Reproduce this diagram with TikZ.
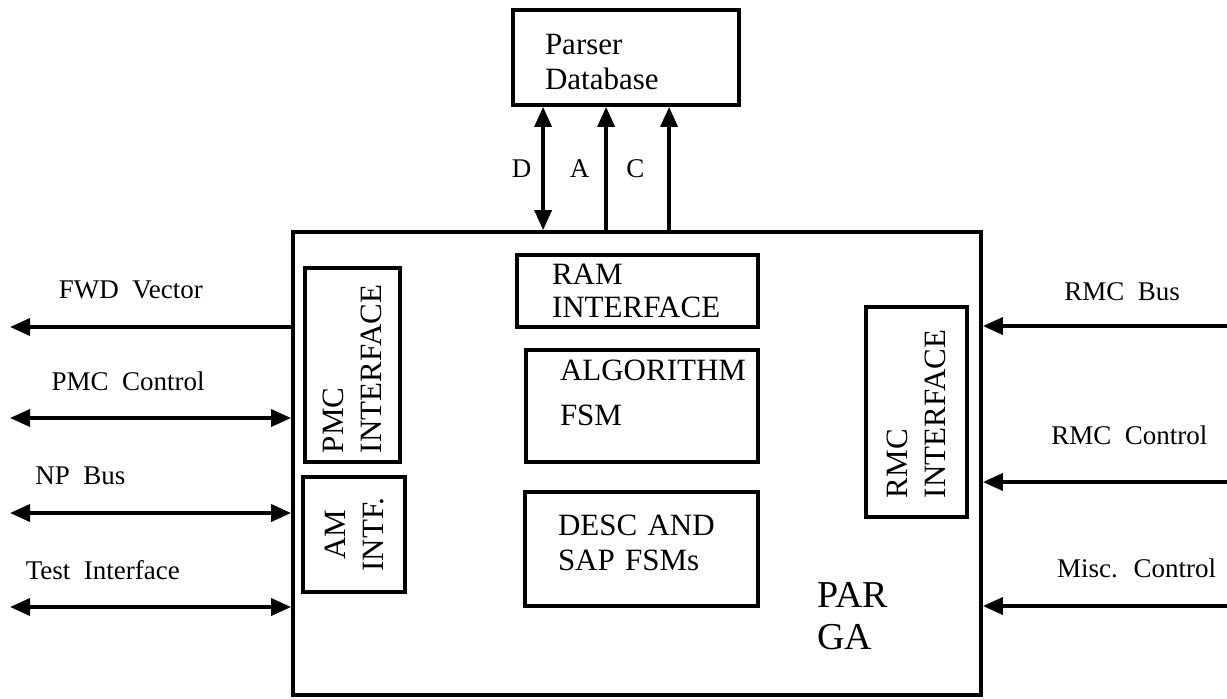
\documentclass[tikz,border=0pt]{standalone}
\usepackage{fontspec}
\setmainfont{Liberation Serif}[WordSpace=2]
\usepackage{tikz}
\usetikzlibrary{arrows.meta,positioning,calc}
\definecolor{parInk}{RGB}{0,0,0}
\tikzset{
  chipbox/.style={rectangle, draw=parInk, line width=1.9pt, inner sep=0pt},
  blockbox/.style={rectangle, draw=parInk, line width=1.9pt, align=left,
    font=\fontsize{15.5}{17.5}\selectfont, inner ysep=0pt, text=parInk},
  vblockbox/.style={blockbox, rotate=90, font=\fontsize{15.5}{19}\selectfont},
  chiplabel/.style={font=\fontsize{19}{21}\selectfont, align=left, inner sep=0pt, text=parInk},
  siglabel/.style={font=\fontsize{13.5}{16}\selectfont, inner sep=0pt, text=parInk},
  outsig/.style={-{Triangle[length=10pt,width=8.5pt]}, draw=parInk, line width=1.8pt},
  bisig/.style={{Triangle[length=10pt,width=8.5pt]}-{Triangle[length=10pt,width=8.5pt]},
    draw=parInk, line width=1.8pt},
}

\begin{document}
\begin{tikzpicture}[x=0.5pt, y=-0.5pt]
  \useasboundingbox (0,0) rectangle (1227,698);

  \node[chipbox, minimum width=344pt, minimum height=231.5pt] (parga) at (637,463.5) {};
  \node[chiplabel, anchor=west] (partitle) at (817,616.5) {PAR\\GA};

  \node[blockbox, minimum width=113pt, minimum height=47.5pt, text width=81pt, inner xsep=16pt,
    text height=15pt] (pdb) at (626,57.5) {Parser\\Database};

  \node[blockbox, font=\fontsize{15.5}{16.5}\selectfont, minimum width=120.5pt, minimum height=36pt,
    text width=85.5pt, inner xsep=17.5pt] (ramif) at (637.5,291) {RAM\\INTERFACE};
  \node[blockbox, font=\fontsize{15.5}{22.5}\selectfont, minimum width=116pt, minimum height=56pt,
    text width=82pt, inner xsep=17pt, text depth=36pt] (algfsm) at (642,406) {ALGORITHM\\FSM};
  \node[blockbox, minimum width=116.5pt, minimum height=57pt, text width=83.5pt, inner xsep=16.5pt,
    text depth=24pt] (descfsm) at (641.5,549) {DESC AND\\SAP FSMs};

  \node[vblockbox, minimum width=97pt, minimum height=47.5pt, text width=88pt,
    inner xsep=4.5pt] (pmcif) at (352.5,365) {PMC\\INTERFACE};
  \node[vblockbox, align=center, minimum width=57.5pt, minimum height=51pt] (amif) at (354,534.5) {AM\\INTF.};
  \node[vblockbox, minimum width=105pt, minimum height=50.5pt, text width=86pt,
    inner xsep=9.5pt] (rmcif) at (916.5,412) {RMC\\INTERFACE};

  \coordinate (fwdL) at (10,327);
  \coordinate (pmcL) at (10,418);
  \coordinate (npL) at (10,513);
  \coordinate (tstL) at (10,607);
  \coordinate (rbusR) at (1227,326);
  \coordinate (rctlR) at (1227,482);
  \coordinate (miscR) at (1227,606);
  \coordinate (dBus) at ([xshift=16pt]pdb.south west);
  \coordinate (aBus) at ([xshift=47.5pt]pdb.south west);
  \coordinate (cBus) at ([xshift=79pt]pdb.south west);

  \draw[bisig] (dBus) -- node[siglabel, left=5pt] {D} (dBus |- parga.north);
  \draw[outsig] (aBus |- parga.north) -- node[siglabel, left=7.5pt] {A} (aBus);
  \draw[outsig] (cBus |- parga.north) -- node[siglabel, left=11.5pt] {C} (cBus);

  \draw[outsig] (parga.west |- fwdL) -- node[siglabel, pos=0.57, above=13pt] {FWD Vector} (fwdL);
  \draw[bisig] (pmcL) -- node[siglabel, pos=0.42, above=12.5pt] {PMC Control} (parga.west |- pmcL);
  \draw[bisig] (npL) -- node[siglabel, pos=0.25, above=13pt] {NP Bus} (parga.west |- npL);
  \draw[bisig] (tstL) -- node[siglabel, pos=0.33, above=12.5pt] {Test Interface} (parga.west |- tstL);

  \draw[outsig] (rbusR) -- node[siglabel, pos=0.43, above=11.5pt] {RMC Bus} (parga.east |- rbusR);
  \draw[outsig] (rctlR) -- node[siglabel, pos=0.40, above=17.5pt] {RMC Control} (parga.east |- rctlR);
  \draw[outsig] (miscR) -- node[siglabel, pos=0.37, above=13pt] {Misc. Control} (parga.east |- miscR);
\end{tikzpicture}
\end{document}
